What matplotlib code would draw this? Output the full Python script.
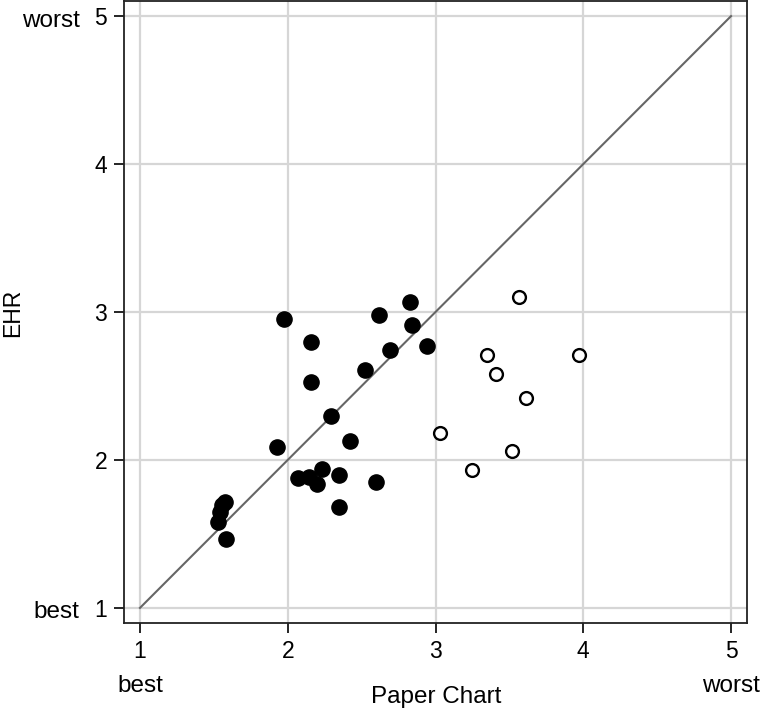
import numpy as np
import matplotlib
matplotlib.use("Agg")
import matplotlib.pyplot as plt

plt.rcParams['font.family'] = ['Liberation Sans', 'DejaVu Sans']

# filled points
paper_filled = [1.975, 2.16, 2.16, 2.62, 2.83, 2.84, 2.69, 2.94, 2.52, 2.29,
                2.42, 1.925, 2.07, 2.146, 2.20, 2.23, 2.35, 2.595, 2.35,
                1.575, 1.553, 1.54, 1.53, 1.58]
ehr_filled = [2.955, 2.80, 2.53, 2.98, 3.07, 2.91, 2.74, 2.77, 2.61, 2.30,
              2.13, 2.086, 1.88, 1.887, 1.84, 1.94, 1.90, 1.85, 1.68,
              1.718, 1.696, 1.65, 1.583, 1.464]
# open points
paper_open = [3.565, 3.35, 3.97, 3.41, 3.61, 3.03, 3.52, 3.245]
ehr_open = [3.10, 2.71, 2.71, 2.58, 2.42, 2.18, 2.06, 1.93]

ticks = [1, 2, 3, 4, 5]
tick_labels = ['1', '2', '3', '4', '5']

fig = plt.figure(figsize=(7.61, 7.10), dpi=100)
ax = fig.add_axes([124/761, 1 - 623/710, (747-124)/761, 622/710])

ax.set_xlim(0.892, 5.108)
ax.set_ylim(0.898, 5.102)
ax.set_xticks(ticks)
ax.set_yticks(ticks)
ax.set_xticklabels(tick_labels)
ax.set_yticklabels(tick_labels)
ax.grid(True, color='#d6d6d6', linewidth=1.6)
ax.set_axisbelow(True)

ax.plot([1, 5], [1, 5], color='#666666', linewidth=1.5, zorder=2)
ax.scatter(paper_filled, ehr_filled, s=120, color='black', zorder=3)
ax.scatter(paper_open, ehr_open, s=85, facecolor='white', edgecolor='black',
           linewidth=1.7, zorder=3)

for sp in ax.spines.values():
    sp.set_linewidth(1.3)
    sp.set_color('#222222')
ax.tick_params(direction='out', length=7, width=1.2, labelsize=16.5, pad=5)

fs = 17.5
# best / worst annotations
ax.annotate('worst', xy=(0, 5), xycoords=('axes fraction', 'data'),
            xytext=(-32, -7.5), textcoords='offset points', ha='right', va='baseline', fontsize=fs)
ax.annotate('best', xy=(0, 1), xycoords=('axes fraction', 'data'),
            xytext=(-32, -7), textcoords='offset points', ha='right', va='baseline', fontsize=fs)
ax.annotate('best', xy=(1, 0), xycoords=('data', 'axes fraction'),
            xytext=(0, -49.5), textcoords='offset points', ha='center', va='baseline', fontsize=fs)
ax.annotate('worst', xy=(5, 0), xycoords=('data', 'axes fraction'),
            xytext=(0, -49.5), textcoords='offset points', ha='center', va='baseline', fontsize=fs)

fig.text(436/761, 1 - 703/710, 'Paper Chart', ha='center', va='baseline', fontsize=fs)
fig.text(13/761, 1 - 313/710, 'EHR', ha='center', va='center', rotation=90, fontsize=16.5)

fig.savefig('out.png', dpi=100)
